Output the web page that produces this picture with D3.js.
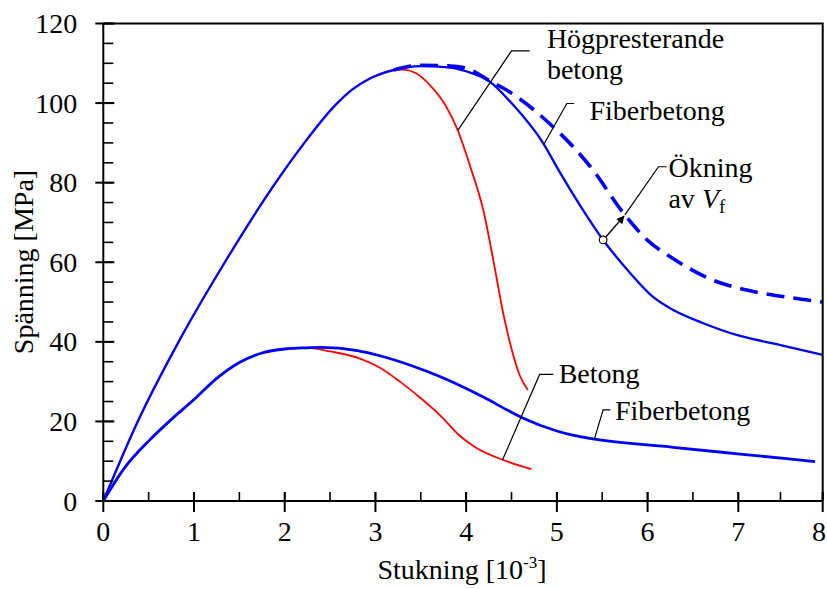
<!DOCTYPE html>
<html>
<head>
<meta charset="utf-8">
<script src="https://cdn.jsdelivr.net/npm/d3@7/dist/d3.min.js"></script>
<style>
  body { margin: 0; background: #fff; }
  svg { display: block; font-family: "Liberation Serif", "Times New Roman", serif; }
</style>
</head>
<body>
<svg id="chart"></svg>
<script>
// rising part shared by the high strength curves
const highRiseX = [0, 0.38, 0.83, 1.34, 1.87, 2.2, 2.55, 2.75, 2.95, 3.2];
const highRiseY = [0, 20, 40, 60, 79, 89.5, 99.3, 103.5, 106.3, 108.3];

// Högpresterande betong (red)
const hpcX = [3.3, 3.45, 3.6, 3.77, 3.91, 4.04, 4.19, 4.32, 4.41, 4.48, 4.59, 4.68];
const hpcY = [108.4, 107.5, 104.5, 99.5, 93, 84.4, 73, 58, 47, 40, 31.6, 27.9];

// Fiberbetong, high (solid blue)
const frcHighX = [3.5, 3.8, 4.0, 4.26, 4.5, 4.85, 5.03, 5.25, 5.51, 5.8, 6.05, 6.3, 6.6, 7.0, 7.5, 8];
const frcHighY = [109.3, 109, 108, 105.4, 100, 89.9, 82.7, 74.5, 65.6, 57.5, 51.5, 47.8, 44.8, 41.6, 39.2, 36.7];

// Ökning av Vf (dashed blue)
const moreFibX = [3.2, 3.5, 3.8, 4.0, 4.23, 4.5, 4.96, 5.18, 5.37, 5.75, 6.0, 6.25, 6.72, 7.1, 7.65, 8];
const moreFibY = [108.3, 109.5, 109.4, 108.8, 106, 102.5, 94, 89, 84, 71.9, 65.5, 61.4, 55.5, 53, 51, 50];

// rising part shared by the normal curves
const lowRiseX = [0, 0.24, 0.51, 0.75, 1.0, 1.25, 1.5, 1.75, 2.0, 2.25];
const lowRiseY = [0, 8.5, 15.3, 20.5, 25.5, 30.8, 34.8, 37.2, 38.2, 38.5];

// Betong (red, low)
const ncX = [2.5, 2.83, 3.05, 3.27, 3.49, 3.71, 3.93, 4.1, 4.41, 4.72];
const ncY = [37.6, 35.8, 33.5, 30, 26, 21.6, 16.4, 13.5, 10.3, 8.0];

// Fiberbetong, low (blue)
const frcLowX = [2.4, 2.8, 3.05, 3.4, 3.71, 4.0, 4.2, 4.45, 4.63, 5.0, 5.2, 5.4, 6.28, 7.02, 7.91];
const frcLowY = [38.6, 37.8, 36.5, 34, 31.3, 28.3, 26, 22.9, 20.8, 17.6, 16.4, 15.6, 13.5, 11.8, 9.9];

const xTicks = [0, 1, 2, 3, 4, 5, 6, 7, 8];
const yTicks = [0, 20, 40, 60, 80, 100, 120];

// annotation leaders in data units
const notes = [
  { lines: ['Högpresterande', 'betong'], tx: 4.89, ty: 113.8, leader: [[4.70, 113.1], [4.50, 113.1], [3.91, 93.2]] },
  { lines: ['Fiberbetong'], tx: 5.36, ty: 95.7, leader: [[5.19, 99.9], [5.11, 99.9], [4.85, 89.4]] },
  { lines: ['Ökning', 'av '], tx: 6.23, ty: 81.5, leader: [[6.21, 84], [6.12, 84], [5.75, 71.9]], vf: true },
  { lines: ['Betong'], tx: 5.02, ty: 29.7, leader: [[4.96, 31.8], [4.81, 31.8], [4.40, 10.3]] },
  { lines: ['Fiberbetong'], tx: 5.64, ty: 20.4, leader: [[5.59, 22.9], [5.51, 22.9], [5.41, 15.3]] }
];
const arrowFrom = [5.51, 65.6];
const arrowTo = [5.74, 71.6];

const width = 827, height = 589;
const svg = d3.select('#chart').attr('width', width).attr('height', height);

const x = d3.scaleLinear().domain([0, 7, 8]).range([103.3, 738.3, 822.7]);
const y = d3.scaleLinear().domain([0, 120]).range([501, 23.5]);

const zip = (xs, ys) => xs.map((v, i) => [v, ys[i]]);
const line = d3.line().x(d => x(d[0])).y(d => y(d[1])).curve(d3.curveMonotoneX);

const highRise = zip(highRiseX, highRiseY);
const lowRise = zip(lowRiseX, lowRiseY);

const curves = [
  { pts: highRise.concat(zip(hpcX, hpcY)), color: '#ff0000', w: 1.8 },
  { pts: lowRise.concat(zip(ncX, ncY)), color: '#ff0000', w: 1.8 },
  { pts: highRise.concat(zip(frcHighX, frcHighY)), color: '#0000ff', w: 2.3 },
  { pts: lowRise.concat(zip(frcLowX, frcLowY)), color: '#0000ff', w: 2.8 },
  { pts: zip(moreFibX, moreFibY), color: '#0000ff', w: 3.6, dash: '18,9' }
];

svg.selectAll('path.curve')
  .data(curves)
  .enter()
  .append('path')
  .attr('class', 'curve')
  .attr('d', d => line(d.pts))
  .attr('fill', 'none')
  .attr('stroke', d => d.color)
  .attr('stroke-width', d => d.w)
  .attr('stroke-dasharray', d => d.dash || null);

// frame top + right
svg.append('path')
  .attr('d', `M${x(0)},${y(120)}H${x(8)}V${y(0)}`)
  .attr('fill', 'none').attr('stroke', '#000').attr('stroke-width', 2);

// axes
const minorX = d3.range(0, 8.01, 0.5);
const minorY = d3.range(0, 120.1, 5);

const xAxis = svg.append('g').attr('transform', `translate(0,${y(0)})`);
xAxis.append('line').attr('x1', x(0)).attr('x2', x(8)).attr('stroke', '#000').attr('stroke-width', 2);
xAxis.selectAll('line.minor').data(minorX).enter().append('line')
  .attr('x1', d => x(d)).attr('x2', d => x(d)).attr('y1', 0).attr('y2', -9)
  .attr('stroke', '#000').attr('stroke-width', 1.6);
xAxis.selectAll('line.major').data(xTicks).enter().append('line')
  .attr('x1', d => x(d)).attr('x2', d => x(d)).attr('y1', 11).attr('y2', -9)
  .attr('stroke', '#000').attr('stroke-width', 2);
xAxis.selectAll('text').data(xTicks).enter().append('text')
  .attr('x', d => d === 8 ? 826 : x(d)).attr('y', 40)
  .attr('text-anchor', d => d === 8 ? 'end' : 'middle').attr('font-size', 28)
  .text(d => d);

const yAxis = svg.append('g').attr('transform', `translate(${x(0)},0)`);
yAxis.append('line').attr('y1', y(0)).attr('y2', y(120)).attr('stroke', '#000').attr('stroke-width', 2);
yAxis.selectAll('line.minor').data(minorY).enter().append('line')
  .attr('y1', d => y(d)).attr('y2', d => y(d)).attr('x1', 0).attr('x2', 10)
  .attr('stroke', '#000').attr('stroke-width', 1.6);
yAxis.selectAll('line.major').data(yTicks).enter().append('line')
  .attr('y1', d => y(d)).attr('y2', d => y(d)).attr('x1', -8).attr('x2', 11)
  .attr('stroke', '#000').attr('stroke-width', 2);
yAxis.selectAll('text').data(yTicks).enter().append('text')
  .attr('x', -26).attr('y', d => y(d) + 9.5)
  .attr('text-anchor', 'end').attr('font-size', 28)
  .text(d => d);

// axis titles
const xt = svg.append('text')
  .attr('x', 462).attr('y', 579)
  .attr('text-anchor', 'middle').attr('font-size', 28);
xt.append('tspan').text('Stukning [10');
xt.append('tspan').attr('dy', -11).attr('font-size', 17).text('-3');
xt.append('tspan').attr('dy', 11).text(']');

svg.append('text')
  .attr('transform', 'translate(33,262) rotate(-90)')
  .attr('text-anchor', 'middle').attr('font-size', 28)
  .text('Spänning [MPa]');

// annotations
notes.forEach(n => {
  svg.append('path')
    .attr('d', d3.line()(n.leader.map(p => [x(p[0]), y(p[1])])))
    .attr('fill', 'none').attr('stroke', '#000').attr('stroke-width', 1.2);
  const t = svg.append('text').attr('font-size', 28);
  n.lines.forEach((s, i) => {
    t.append('tspan').attr('x', x(n.tx)).attr('y', y(n.ty) + i * 31).text(s);
  });
  if (n.vf) {
    t.append('tspan').attr('font-style', 'italic').text('V');
    t.append('tspan').attr('font-size', 19).attr('dy', 5).text('f');
  }
});

// arrow for increased fibre volume
svg.append('defs').append('marker')
  .attr('id', 'ah').attr('viewBox', '0 0 10 10').attr('refX', 9).attr('refY', 5)
  .attr('markerWidth', 11).attr('markerHeight', 8).attr('markerUnits', 'userSpaceOnUse')
  .attr('orient', 'auto')
  .append('path').attr('d', 'M0,0L10,5L0,10z').attr('fill', '#000');
svg.append('line')
  .attr('x1', x(arrowFrom[0])).attr('y1', y(arrowFrom[1]))
  .attr('x2', x(arrowTo[0])).attr('y2', y(arrowTo[1]))
  .attr('stroke', '#000').attr('stroke-width', 1.4)
  .attr('marker-end', 'url(#ah)');
svg.append('circle')
  .attr('cx', x(arrowFrom[0])).attr('cy', y(arrowFrom[1])).attr('r', 3.8)
  .attr('fill', '#fff').attr('stroke', '#000').attr('stroke-width', 1.2);
</script>
</body>
</html>
